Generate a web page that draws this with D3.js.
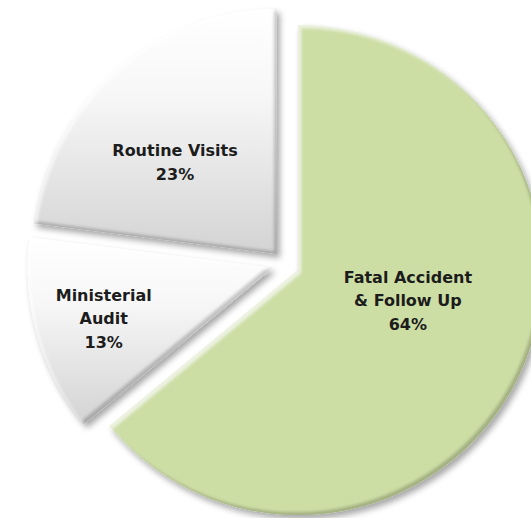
<!DOCTYPE html>
<html>
<head>
<meta charset="utf-8">
<script src="https://cdn.jsdelivr.net/npm/d3@7"></script>
<style>
  html, body { margin: 0; padding: 0; background: #fff; }
  svg { display: block; }
</style>
</head>
<body>
<svg id="chart"></svg>
<script>
// data
const categories = ["Fatal Accident & Follow Up", "Ministerial Audit", "Routine Visits"];
const labelLines = [["Fatal Accident", "& Follow Up"], ["Ministerial", "Audit"], ["Routine Visits"]];
const values = [64, 13, 23];

const width = 531;
const height = 518;
const center = {x: 285.8, y: 264.3};
const radius = 245;
const explode = 13.6;

// label placement, relative to slice apex (angle shift in degrees, fraction of radius)
const labelShift = [-9.7, -0.4, -6.5];
const labelFrac = [0.465, 0.72, 0.56];
const lineHeight = 23.5;

const svg = d3.select("#chart").attr("width", width).attr("height", height);
const defs = svg.append("defs");

const grayGrad = defs.append("linearGradient")
    .attr("id", "grayGrad")
    .attr("x1", 0).attr("y1", 0).attr("x2", 0).attr("y2", 1);
grayGrad.append("stop").attr("offset", "0%").attr("stop-color", "#ffffff");
grayGrad.append("stop").attr("offset", "35%").attr("stop-color", "#f7f7f7");
grayGrad.append("stop").attr("offset", "100%").attr("stop-color", "#d3d3d3");

// bevel + drop shadow
const fx = defs.append("filter").attr("id", "fx")
    .attr("x", "-10%").attr("y", "-10%").attr("width", "130%").attr("height", "130%");
fx.append("feGaussianBlur").attr("in", "SourceAlpha").attr("stdDeviation", 1.5).attr("result", "b");
fx.append("feOffset").attr("in", "b").attr("dx", -3).attr("dy", -3).attr("result", "o1");
fx.append("feComposite").attr("in", "SourceAlpha").attr("in2", "o1")
    .attr("operator", "arithmetic").attr("k2", 1).attr("k3", -1).attr("result", "e1");
fx.append("feFlood").attr("flood-color", "#000").attr("flood-opacity", 0.4);
fx.append("feComposite").attr("in2", "e1").attr("operator", "in").attr("result", "dark");
fx.append("feOffset").attr("in", "b").attr("dx", 3).attr("dy", 3).attr("result", "o2");
fx.append("feComposite").attr("in", "SourceAlpha").attr("in2", "o2")
    .attr("operator", "arithmetic").attr("k2", 1).attr("k3", -1).attr("result", "e2");
fx.append("feFlood").attr("flood-color", "#fff").attr("flood-opacity", 0.6);
fx.append("feComposite").attr("in2", "e2").attr("operator", "in").attr("result", "light");
fx.append("feGaussianBlur").attr("in", "SourceAlpha").attr("stdDeviation", 3).attr("result", "sb");
fx.append("feOffset").attr("in", "sb").attr("dx", 3).attr("dy", 4).attr("result", "so");
fx.append("feFlood").attr("flood-color", "#000").attr("flood-opacity", 0.35);
fx.append("feComposite").attr("in2", "so").attr("operator", "in").attr("result", "shadow");
const merge = fx.append("feMerge");
["shadow", "SourceGraphic", "dark", "light"].forEach(n => merge.append("feMergeNode").attr("in", n));

const color = d3.scaleOrdinal()
    .domain(categories)
    .range(["#cddea5", "url(#grayGrad)", "url(#grayGrad)"]);

const pie = d3.pie().sort(null).value(d => d);
const arcs = pie(values);
const arc = d3.arc().innerRadius(0).outerRadius(radius);

const g = svg.append("g").attr("transform", `translate(${center.x},${center.y})`);

const offset = (d) => {
    const mid = (d.startAngle + d.endAngle) / 2;
    return [Math.sin(mid) * explode, -Math.cos(mid) * explode];
};

const slices = g.selectAll("g.slice")
    .data(arcs)
    .enter()
    .append("g")
    .attr("class", "slice")
    .attr("transform", d => `translate(${offset(d)[0]},${offset(d)[1]})`);

slices.append("path")
    .attr("d", arc)
    .attr("fill", (d, i) => color(categories[i]))
    .attr("filter", "url(#fx)");

slices.each(function(d, i) {
    const a = (d.startAngle + d.endAngle) / 2 + labelShift[i] * Math.PI / 180;
    const r = radius * labelFrac[i];
    const lx = Math.sin(a) * r;
    const ly = -Math.cos(a) * r;
    const lines = labelLines[i].concat([d3.format(".0%")(d.value / d3.sum(values))]);
    const text = d3.select(this).append("text")
        .attr("text-anchor", "middle")
        .attr("font-family", "'DejaVu Sans', sans-serif")
        .attr("font-weight", "bold")
        .attr("font-size", 16)
        .attr("fill", "#1c1c1c");
    lines.forEach((t, j) => {
        text.append("tspan")
            .attr("x", lx)
            .attr("y", ly - (lines.length - 1) * lineHeight / 2 + j * lineHeight)
            .attr("dy", "0.36em")
            .text(t);
    });
});
</script>
</body>
</html>
